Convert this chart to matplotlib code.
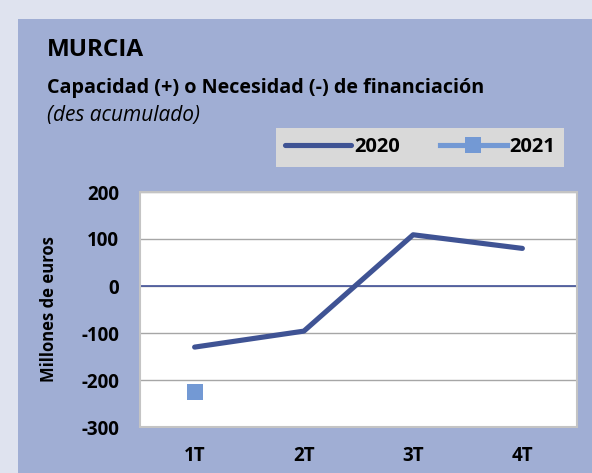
import matplotlib

matplotlib.use("Agg")
import matplotlib.pyplot as plt
import numpy as np
from matplotlib.patches import Rectangle

plt.rcParams["font.family"] = ["Open Sans", "DejaVu Sans"]
plt.rcParams["axes.unicode_minus"] = False

quarters = ["1T", "2T", "3T", "4T"]
values_2020 = [-130, -96, 109, 80]
values_2021 = [-226, np.nan, np.nan, np.nan]
y_ticks = [-300, -200, -100, 0, 100, 200]

W, H = 592, 473
fig = plt.figure(figsize=(W / 100, H / 100), dpi=100)
fig.patch.set_facecolor("#dfe3ef")

# blue panel behind everything
fig.patches.append(
    Rectangle((18 / W, 0), 1 - 18 / W, 1 - 19 / H, transform=fig.transFigure,
              facecolor="#a0aed4", edgecolor="none", zorder=-5)
)

fig.text(47 / W, 1 - 50 / H, "MURCIA", fontsize=17.5, fontweight="bold", va="center")
fig.text(47 / W, 1 - 88 / H, "Capacidad (+) o Necesidad (-) de financiación",
         fontsize=14.2, fontweight="bold", va="center")
fig.text(47 / W, 1 - 116 / H, "(des acumulado)", fontsize=15, fontstyle="italic", va="center")

ax = fig.add_axes([140 / W, 1 - 427 / H, (577 - 140) / W, (427 - 192) / H])
ax.set_zorder(2)
ax.set_facecolor("white")
x = np.arange(len(quarters))
ax.plot(x, values_2020, color="#3f5394", linewidth=3.7, solid_capstyle="round", label="2020", zorder=3)
ax.plot(x, values_2021, color="#7399d4", linewidth=3.7, marker="s", markersize=12,
        markeredgewidth=0, label="2021", zorder=3)

ax.set_xlim(-0.5, 3.5)
ax.set_ylim(-300, 200)
ax.set_yticks(y_ticks)
ax.set_xticks(x)
ax.set_xticklabels(quarters)
ax.tick_params(axis="both", length=0, labelsize=13.5)
ax.tick_params(axis="y", pad=15)
ax.tick_params(axis="x", pad=14)
for lbl in ax.get_xticklabels() + ax.get_yticklabels():
    lbl.set_fontweight("bold")
ax.grid(axis="y", color="#a6a6a6", linewidth=1)
ax.axhline(0, color="#44549a", linewidth=1.2, zorder=2)
for s in ax.spines.values():
    s.set_color("#c4c4c4")
    s.set_linewidth(1.5)
ax.set_ylabel("Millones de euros", fontsize=12, fontweight="bold", labelpad=17)

leg = fig.legend(loc="center", bbox_to_anchor=(420 / W, 1 - 147.5 / H), ncol=2,
                 facecolor="#d9d9d9", edgecolor="none", fancybox=False, framealpha=1,
                 prop={"weight": "bold", "size": 14.5}, handlelength=3.3, handletextpad=0.15,
                 columnspacing=2.0, borderpad=0.45)
leg.set_zorder(3)

fig.savefig("out.png", dpi=100, facecolor=fig.get_facecolor())
